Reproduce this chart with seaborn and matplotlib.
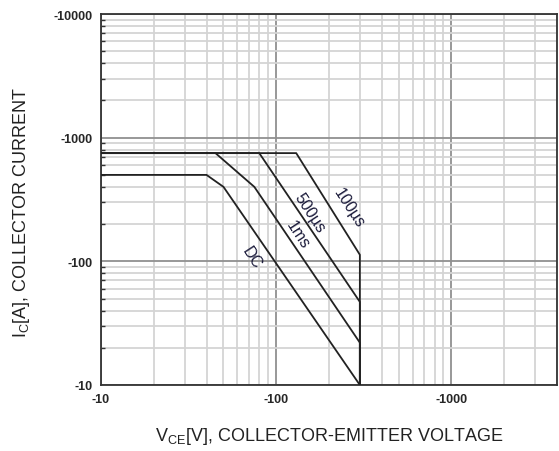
import matplotlib
matplotlib.use("Agg")
import matplotlib.pyplot as plt
import seaborn as sns
import pandas as pd
import numpy as np
from matplotlib.ticker import FixedLocator, NullFormatter, LogLocator

# ---- data ----
dc_v = [10, 40, 50, 300]
dc_i = [500, 500, 400, 10]
ms1_v = [10, 45, 75, 300, 300]
ms1_i = [750, 750, 400, 22, 10]
us500_v = [10, 80, 300, 300]
us500_i = [750, 750, 47, 10]
us100_v = [10, 130, 300, 300]
us100_i = [750, 750, 113, 10]

curve_names = ["DC", "1ms", "500\u00b5s", "100\u00b5s"]
label_x = [72.5, 133, 155, 259]
label_y = [109, 165, 248, 275]

x_ticks = [10, 100, 1000]
x_ticklabels = ["-10", "-100", "-1000"]
y_ticks = [10, 100, 1000, 10000]
y_ticklabels = ["-10", "-100", "-1000", "-10000"]

rows = []
for name, vs, cs in zip(curve_names, [dc_v, ms1_v, us500_v, us100_v],
                        [dc_i, ms1_i, us500_i, us100_i]):
    for k, (v, c) in enumerate(zip(vs, cs)):
        rows.append({"curve": name, "order": k, "V": v, "I": c})
df = pd.DataFrame(rows)

sns.set_style("white")
plt.rcParams["font.family"] = ["Liberation Sans", "DejaVu Sans"]
plt.rcParams["mathtext.default"] = "regular"

fig = plt.figure(figsize=(5.59, 4.52), dpi=100)
ax = fig.add_axes([101 / 559, 66 / 452, 456 / 559, 371 / 452])
ax.set_xscale("log")
ax.set_yscale("log")
ax.set_xlim(10, 4000)
ax.set_ylim(10, 10000)

# grid
ax.grid(True, which="minor", color="#d4d4d4", linewidth=1.3, zorder=0)
ax.grid(True, which="major", color="#909090", linewidth=1.3, zorder=0)
ax.xaxis.set_minor_locator(LogLocator(base=10, subs=np.arange(2, 10)))
ax.yaxis.set_minor_locator(LogLocator(base=10, subs=np.arange(2, 10)))
ax.xaxis.set_minor_formatter(NullFormatter())
ax.yaxis.set_minor_formatter(NullFormatter())
ax.set_axisbelow(True)

for name in curve_names:
    sub = df[df["curve"] == name]
    sns.lineplot(data=sub, x="V", y="I", sort=False, estimator=None,
                 color="#222222", linewidth=1.3, ax=ax, legend=False, zorder=3)

for name, tx, ty in zip(curve_names, label_x, label_y):
    ax.text(tx, ty, name, rotation=-57, ha="center", va="center",
            fontsize=11.5, color="#1a1a3a", zorder=4)

ax.xaxis.set_major_locator(FixedLocator(x_ticks))
ax.set_xticklabels(x_ticklabels)
ax.yaxis.set_major_locator(FixedLocator(y_ticks))
ax.set_yticklabels(y_ticklabels)
ax.tick_params(axis="both", which="major", length=0, labelsize=9, pad=6)
ax.tick_params(axis="x", which="minor", length=0)
ax.tick_params(axis="y", which="minor", direction="in", length=3, width=1, color="#333333", left=True)
for lbl in ax.get_xticklabels() + ax.get_yticklabels():
    lbl.set_fontweight("bold")

for s in ax.spines.values():
    s.set_color("#333333")
    s.set_linewidth(1.3)

ax.set_xlabel(r"V$_{CE}$[V], COLLECTOR-EMITTER VOLTAGE", fontsize=13, color="#222222")
ax.set_ylabel(r"I$_{C}$[A], COLLECTOR CURRENT", fontsize=13, color="#222222")
ax.xaxis.set_label_coords(0.5, -0.137)
ax.yaxis.set_label_coords(-0.175, 0.469)
ax.xaxis.label.set_va("center")
ax.yaxis.label.set_va("center")

fig.savefig("out.png", dpi=100)
